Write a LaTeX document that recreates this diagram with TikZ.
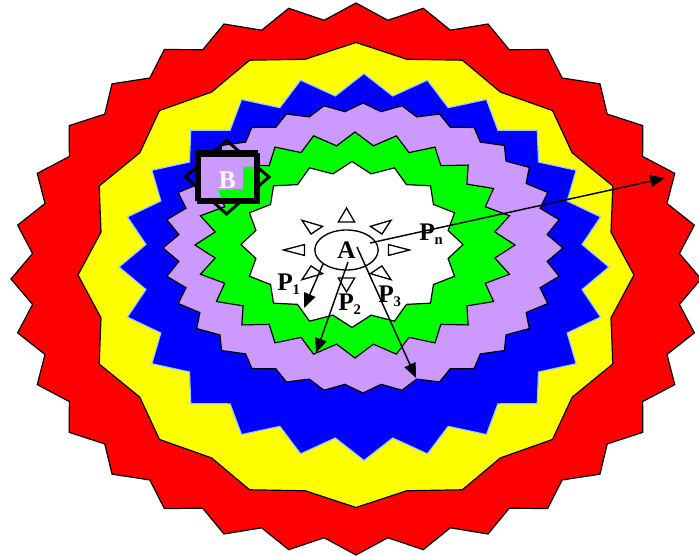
\documentclass[tikz,border=0pt]{standalone}
\usepackage{fontspec}
\setmainfont{Liberation Serif}
\usetikzlibrary{arrows.meta,positioning,shapes.geometric}
\definecolor{zRed}{HTML}{FF0000}
\definecolor{zYellow}{HTML}{FFFF00}
\definecolor{zBlue}{HTML}{0000FF}
\definecolor{zBlueEdge}{HTML}{99CCFF}
\definecolor{zLilac}{HTML}{CC99FF}
\definecolor{zGreen}{HTML}{00FF00}
% style, centre x, centre y, points, outer radii, inner radii
\newcommand{\zigzag}[8]{%
  \filldraw[#1,shift={(#2,#3)}] (90:#5 and #6)
    \foreach \k in {1,...,#4}{
      -- ({90+(\k-0.5)*360/#4}:#7 and #8) -- ({90+\k*360/#4}:#5 and #6)}
    -- cycle;}
\newcommand{\lowidx}[1]{\raisebox{-3pt}{\fontsize{11}{11}\selectfont#1}}

\begin{document}
\begin{tikzpicture}[x=0.75pt, y=-0.75pt,
  ring/.style={draw=black, line width=0.9pt, line join=miter},
  ray/.style={draw=black, line width=1pt, fill=white, line join=miter},
  vec/.style={line width=1.1pt, -{Triangle[length=11pt,width=9pt]}},
  tag/.style={font=\fontsize{19}{22}\selectfont\bfseries, inner sep=0pt}]
  \fill[white] (0,0) rectangle (699,556);
  \useasboundingbox (0,0) rectangle (699,556);

  % rings, outside in
  \zigzag{ring, fill=zRed}{356}{279}{32}{345}{276}{325}{260}
  \zigzag{ring, fill=zYellow}{356}{275}{16}{278}{232.5}{260}{220}
  \zigzag{ring, draw=zBlueEdge, fill=zBlue}{364}{267}{24}{245}{193.5}{220}{172.5}
  \zigzag{ring, fill=zLilac}{363}{248}{32}{200}{145}{185}{137}
  \zigzag{ring, fill=zGreen}{355}{245}{24}{160}{113}{141}{100}
  \zigzag{ring, fill=white}{352}{244.5}{16}{111}{83}{98}{72}

  % marker B
  \draw[line width=2.2pt] (226.5,140.5) -- (269,177) -- (226.5,214) -- (185.5,177) -- cycle;
  \fill[zLilac] (200,155) rectangle (255,199);
  \fill[zGreen] (218,190) -- (243,189) -- (243,167) -- (255,167) -- (255,199) -- (221,199) -- cycle;
  \draw[line width=2.6pt] (196.5,152) rectangle (256,199.5);
  \draw[line width=2.6pt] (199,155) rectangle (258.5,202.5);
  \node[tag, text=white] (B) at (227.3,180) {B};

  % sun round A
  \node[tag, ellipse, draw, line width=1pt, minimum width=47.5pt, minimum height=30pt] (A) at (346.5,250) {A};
  \begin{scope}[shift={(A.center)}, xscale=1.5]
    \foreach \a in {0,45,...,315}
      \draw[ray] (\a:42) -- (\a+11:28.5) -- (\a-11:28.5) -- cycle;
  \end{scope}

  % paths out of A
  \coordinate (n0) at (370,243);   \coordinate (n1) at (665,178);
  \coordinate (a0) at (323,264);   \coordinate (a1) at (304,308);
  \coordinate (b0) at (348,262);   \coordinate (b1) at (316,353);
  \coordinate (c0) at (357,247);   \coordinate (c1) at (416,378);
  \draw[vec] (n0) -- (n1);
  \draw[vec] (a0) -- (a1);
  \draw[vec] (b0) -- (b1);
  \draw[vec] (c0) -- (c1);

  \node[tag, anchor=base west] (Pn) at (419,240) {P\lowidx{n}};
  \node[tag, anchor=base west] (P1) at (277,290) {P\lowidx{1}};
  \node[tag, anchor=base west] (P2) at (338,310) {P\lowidx{2}};
  \node[tag, anchor=base west] (P3) at (378,302) {P\lowidx{3}};
\end{tikzpicture}
\end{document}
